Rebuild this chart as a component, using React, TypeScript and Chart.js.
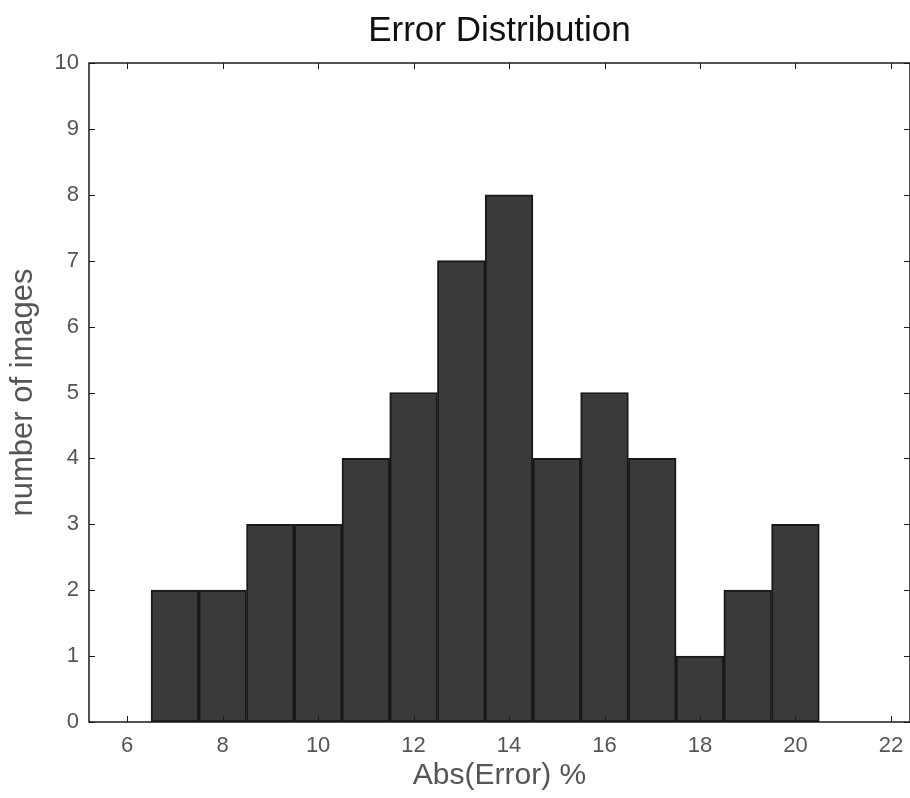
import React, { useEffect, useRef } from "react";
import { Chart, registerables } from "chart.js";

Chart.register(...registerables);

const binCenters = [7, 8, 9, 10, 11, 12, 13, 14, 15, 16, 17, 18, 19, 20];
const counts = [2, 2, 3, 3, 4, 5, 7, 8, 4, 5, 4, 1, 2, 3];
const xTicks = [6, 8, 10, 12, 14, 16, 18, 20, 22];
const yTicks = [0, 1, 2, 3, 4, 5, 6, 7, 8, 9, 10];
const titleText = "Error Distribution";
const xLabel = "Abs(Error) %";
const yLabel = "number of images";

const FONT = "'Liberation Sans', Arial, sans-serif";

const framePlugin = {
  id: "frameTicks",
  afterDatasetsDraw(chart: any) {
    const { ctx, chartArea } = chart;
    const { left, right, top, bottom } = chartArea;
    const xs = chart.scales.x;
    const ys = chart.scales.y;
    ctx.save();
    ctx.strokeStyle = "#1a1a1a";
    ctx.lineWidth = 1.5;
    ctx.strokeRect(left, top, right - left, bottom - top);
    ctx.lineWidth = 1;
    const L = 6;
    ctx.beginPath();
    xTicks.forEach((v) => {
      const px = Math.round(xs.getPixelForValue(v)) + 0.5;
      ctx.moveTo(px, bottom);
      ctx.lineTo(px, bottom - L);
      ctx.moveTo(px, top);
      ctx.lineTo(px, top + L);
    });
    yTicks.forEach((v) => {
      const py = Math.round(ys.getPixelForValue(v)) + 0.5;
      ctx.moveTo(left, py);
      ctx.lineTo(left + L, py);
      ctx.moveTo(right, py);
      ctx.lineTo(right - L, py);
    });
    ctx.stroke();
    ctx.restore();
  },
  afterDraw(chart: any) {
    const { ctx, chartArea } = chart;
    ctx.save();
    ctx.fillStyle = "#111";
    ctx.font = `35px ${FONT}`;
    ctx.textAlign = "center";
    ctx.textBaseline = "middle";
    ctx.fillText(titleText, (chartArea.left + chartArea.right) / 2, 31);
    ctx.restore();
  },
};

export default function App() {
  const ref = useRef<HTMLCanvasElement | null>(null);

  useEffect(() => {
    if (!ref.current) return;
    const chart = new Chart(ref.current, {
      type: "bar",
      data: {
        datasets: [
          {
            data: binCenters.map((x, i) => ({ x, y: counts[i] })),
            backgroundColor: "#3a3a3a",
            borderColor: "#191919",
            borderWidth: 2,
            borderSkipped: false,
            barPercentage: 1,
            categoryPercentage: 1,
          },
        ],
      },
      options: {
        responsive: false,
        animation: false,
        layout: { padding: { top: 63, left: 0, right: 0, bottom: 0 } },
        plugins: {
          legend: { display: false },
          tooltip: { enabled: false },
          title: { display: false },
        },
        scales: {
          x: {
            type: "linear",
            min: 5.2,
            max: 22.4,
            offset: false,
            grid: { display: false, drawTicks: false, offset: false },
            border: { display: false },
            afterBuildTicks: (scale: any) => {
              scale.ticks = xTicks.map((v) => ({ value: v }));
            },
            afterFit: (scale: any) => {
              scale.height = 76;
              scale.paddingLeft = 0;
              scale.paddingRight = 0;
            },
            ticks: {
              padding: 11,
              color: "#555",
              font: { family: FONT, size: 22 },
              maxRotation: 0,
              autoSkip: false,
            },
            title: {
              display: true,
              text: xLabel,
              color: "#555",
              font: { family: FONT, size: 30 },
              padding: { top: 0, bottom: 4 },
            },
          },
          y: {
            min: 0,
            max: 10,
            grid: { display: false, drawTicks: false },
            border: { display: false },
            afterBuildTicks: (scale: any) => {
              scale.ticks = yTicks.map((v) => ({ value: v }));
            },
            afterFit: (scale: any) => {
              scale.width = 89;
            },
            ticks: {
              padding: 10,
              color: "#555",
              font: { family: FONT, size: 22 },
              autoSkip: false,
            },
            title: {
              display: true,
              text: yLabel,
              color: "#555",
              font: { family: FONT, size: 31 },
              padding: { top: 5, bottom: 0 },
            },
          },
        },
      },
      plugins: [framePlugin],
    });
    return () => chart.destroy();
  }, []);

  return (
    <div style={{ position: "fixed", left: 0, top: 0, width: 910, height: 798, background: "#fff" }}>
      <canvas ref={ref} width={910} height={798} style={{ display: "block" }} />
    </div>
  );
}
